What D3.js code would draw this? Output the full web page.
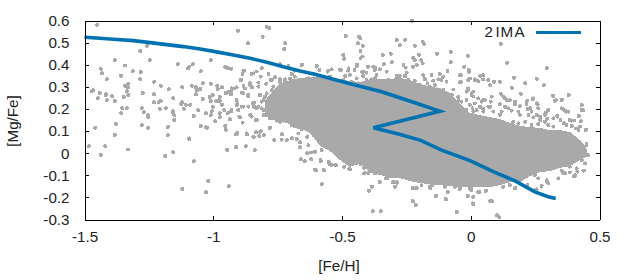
<!DOCTYPE html>
<html>
<head>
<meta charset="utf-8">
<script src="https://cdn.jsdelivr.net/npm/d3@7"></script>
<style>
  html, body { margin: 0; padding: 0; background: #fff; }
  svg { display: block; }
  text { font-family: "Liberation Sans", sans-serif; font-size: 15.2px; fill: #222; }
</style>
</head>
<body>
<svg width="630" height="280"></svg>
<script>
var xTicks = [-1.5, -1, -0.5, 0, 0.5];
var yTicks = [-0.3, -0.2, -0.1, 0, 0.1, 0.2, 0.3, 0.4, 0.5, 0.6];

// 2IMA model track
var modelFeH  = [-1.5, -1.44, -1.375, -1.31, -1.245, -1.181, -1.116, -1.051, -0.987, -0.922, -0.857, -0.792, -0.728, -0.663, -0.605, -0.476, -0.346, -0.217, -0.12, -0.378, -0.281, -0.197, -0.113, -0.003, 0.094, 0.172, 0.249, 0.301, 0.33];
var modelMgFe = [0.524, 0.52, 0.514, 0.509, 0.5, 0.491, 0.482, 0.471, 0.458, 0.444, 0.429, 0.411, 0.391, 0.372, 0.357, 0.316, 0.278, 0.228, 0.19, 0.115, 0.087, 0.059, 0.014, -0.034, -0.087, -0.125, -0.175, -0.197, -0.205];

// outline of the part of the cloud where the stars merge into solid grey
var cloudFeH = [-0.799, -0.78, -0.76, -0.741, -0.702, -0.663, -0.624, -0.585, -0.547, -0.508, -0.469, -0.43, -0.391, -0.352, -0.314, -0.275, -0.236, -0.197, -0.158, -0.119, -0.081, -0.042, -0.003, 0.036, 0.075, 0.114, 0.153, 0.192, 0.23, 0.269, 0.308, 0.347, 0.386, 0.425, 0.448, 0.456];
var cloudTop = [0.24, 0.263, 0.295, 0.313, 0.331, 0.34, 0.344, 0.344, 0.34, 0.335, 0.326, 0.322, 0.335, 0.335, 0.335, 0.34, 0.331, 0.313, 0.299, 0.295, 0.272, 0.227, 0.181, 0.172, 0.163, 0.154, 0.136, 0.123, 0.118, 0.114, 0.104, 0.104, 0.095, 0.059, 0.028, -0.009];
var cloudBottom = [0.172, 0.159, 0.15, 0.145, 0.132, 0.114, 0.091, 0.032, 0.01, -0.031, -0.063, -0.045, -0.086, -0.099, -0.113, -0.113, -0.126, -0.135, -0.14, -0.144, -0.149, -0.153, -0.153, -0.153, -0.153, -0.144, -0.131, -0.131, -0.104, -0.086, -0.081, -0.067, -0.058, -0.031, -0.018, -0.018];

// single stars [Fe/H, Mg/Fe]
var starsMetalPoor = [
  [-1.382,0.421],[-1.343,0.396],[-1.246,0.421],[-1.284,0.462],[-1.436,0.381],[-1.432,0.362],[-1.358,0.35],[-1.312,0.371],[-1.281,0.367],[-1.413,0.335],[-1.284,0.335],[-1.137,0.403],[-1.098,0.385],[-1.093,0.391],[-1.079,0.403],[-1.048,0.371],[-1.009,0.421],[-0.954,0.39],[-0.943,0.385],[-0.931,0.381],
  [-1.23,0.322],[-1.343,0.304],[-1.331,0.313],[-1.331,0.299],[-1.203,0.304],[-1.172,0.29],[-1.121,0.299],[-1.083,0.304],[-1.067,0.299],[-1.063,0.285],[-1.051,0.29],[-1.04,0.317],[-1.009,0.313],[-0.985,0.304],[-0.982,0.29],[-0.966,0.299],[-1.471,0.281],[-1.467,0.285],[-1.44,0.272],[-1.417,0.267],[-1.417,0.263],[-1.393,0.258],[-1.448,0.249],[-1.413,0.24],[-1.382,0.236],[-1.347,0.254],[-1.335,0.281],[-1.331,0.263],[-1.273,0.272],[-1.23,0.267],[-1.23,0.231],[-1.211,0.231],[-1.203,0.236],[-1.156,0.249],[-1.125,0.222],[-1.121,0.231],[-1.067,0.267],[-1.04,0.245],[-1.013,0.254],[-1.001,0.263],[-1.009,0.236],[-0.989,0.236],[-0.974,0.254],[-0.974,0.236],[-0.966,0.218],[-0.951,0.272],[-0.943,0.276],[-0.931,0.281],[-0.931,0.267],
  [-1.354,0.204],[-1.335,0.204],[-1.358,0.181],[-1.277,0.204],[-1.269,0.186],[-1.253,0.172],[-1.253,0.163],[-1.207,0.2],[-1.184,0.204],[-1.156,0.19],[-1.156,0.181],[-1.152,0.172],[-1.152,0.15],[-1.106,0.218],[-1.09,0.218],[-1.114,0.2],[-1.059,0.195],[-1.075,0.168],[-1.028,0.181],[-1.009,0.172],[-1.005,0.19],[-1.001,0.209],[-0.974,0.181],[-0.974,0.163],[-0.993,0.145],[-0.958,0.195],[-0.943,0.181],[-0.931,0.19],[-0.935,0.154],[-1.378,0.132],[-1.459,0.114],[-1.382,0.082],[-1.277,0.127],[-1.253,0.114],[-1.176,0.118],[-1.176,0.082],[-1.094,0.064],[-1.048,0.123],[-1.024,0.114],[-0.954,0.123],[-0.951,0.105],[-1.483,0.032],[-1.42,0.032],[-1.331,0.017],[-0.947,0.017],
  [-1.451,0.58],[-1.257,0.485],[-1.174,0.12],[-1.028,0.117],[-1.094,0.067],[-1.436,-0.008],[-1.187,-0.013],[-1.156,0.005],[-1.075,-0.036],[-0.946,0.014],[-0.911,0.028],[-0.873,0.032],[-0.838,0.014],[-1.121,-0.162],[-1.02,-0.126],[-1.028,-0.176],[-0.939,-0.149]
];
var starsUpper = [
  [-0.904,0.553],[-0.792,0.571],[-0.782,0.566],[-0.865,0.498],[-0.808,0.526],[-0.721,0.498],[-0.725,0.471],[-0.741,0.403],[-0.655,0.399],[-0.88,0.372],[-0.886,0.358],[-0.844,0.361],[-0.831,0.369],[-0.811,0.385],[-0.785,0.358],[-0.76,0.343],[-0.777,0.331],[-0.893,0.331],[-0.928,0.293],[-0.909,0.298],[-0.948,0.271],[-0.877,0.293],[-0.857,0.308],[-0.848,0.298],[-0.883,0.271],[-0.864,0.256],[-0.825,0.301],[-0.818,0.263],[-0.909,0.24],[-0.906,0.222],[-0.889,0.21],[-0.864,0.21],[-0.847,0.225],[-0.831,0.203],[-0.896,0.161],[-0.857,0.173],[-0.834,0.15],[-0.912,0.085],[-0.87,0.09],[-0.844,0.075],[-0.818,0.097],
  [-0.495,0.444],[-0.657,0.399],[-0.598,0.394],[-0.588,0.376],[-0.553,0.373],[-0.504,0.376],[-0.475,0.384],[-0.443,0.399],[-0.488,0.349],[-0.469,0.353],[-0.708,0.394],[-0.695,0.358],[-0.683,0.373],[-0.812,0.384],[-0.883,0.373],[-0.851,0.358],[-0.786,0.358],[-0.816,0.346],[-0.89,0.331],[-0.825,0.319],[-0.773,0.331],[-0.795,0.313],[-0.857,0.316],[-0.883,0.304],[-0.851,0.298],[-0.916,0.293],[-0.929,0.278],[-0.89,0.273],[-0.864,0.263],[-0.819,0.263],[-0.909,0.218],[-0.883,0.21],[-0.842,0.228],[-0.842,0.21],[-0.825,0.21],[-0.929,0.195],[-0.903,0.195],[-0.812,0.233],[-0.799,0.255],[-0.773,0.285],[-0.741,0.323],[-0.721,0.334],[-0.851,0.165],[-0.831,0.15],[-0.899,0.165],[-0.886,0.138],[-0.78,0.116],[-0.78,0.157],[-0.754,0.147],[-0.728,0.147],[-0.708,0.142],[-0.683,0.127],[-0.67,0.116],[-0.805,0.195],[-0.805,0.172],
  [-0.228,0.599],[-0.485,0.53],[-0.434,0.526],[-0.429,0.52],[-0.438,0.497],[-0.419,0.485],[-0.428,0.462],[-0.42,0.437],[-0.428,0.429],[-0.496,0.444],[-0.492,0.426],[-0.441,0.399],[-0.287,0.512],[-0.255,0.512],[-0.275,0.489],[-0.217,0.485],[-0.186,0.503],[-0.182,0.494],[-0.341,0.444],[-0.31,0.449],[-0.337,0.403],[-0.306,0.412],[-0.224,0.431],[-0.217,0.421],[-0.201,0.444],[-0.193,0.421],[-0.187,0.406],[-0.209,0.399],[-0.224,0.391],[-0.261,0.399],[-0.253,0.387],[-0.131,0.449],[-0.077,0.458],[-0.077,0.412],[-0.011,0.44],[-0.026,0.39],[-0.007,0.376],[0.117,0.494],[0.141,0.408],[0.296,0.385],
  [0.168,0.34],[0.211,0.317],[0.257,0.336],[0.284,0.308],[0.16,0.295],[0.195,0.268],[-0.038,0.322],[-0.039,0.354],[-0.01,0.331],[0.016,0.331],[0.036,0.349],[0.029,0.326],[0.068,0.331],[0.075,0.308],[0.09,0.323],[0.113,0.323],[-0.12,0.358],[-0.09,0.372],[-0.152,0.354],[-0.178,0.336],[-0.217,0.326],[-0.255,0.349],[-0.288,0.349],[-0.327,0.369],[-0.372,0.388],[-0.398,0.391],[-0.417,0.369],[-0.452,0.376],[-0.476,0.373],[-0.508,0.379],[-0.54,0.379],[-0.556,0.369],[-0.599,0.391],[-0.372,0.339],[-0.294,0.331],[-0.113,0.331],[-0.139,0.308],[-0.178,0.298],[-0.107,0.286],[-0.074,0.263],[-0.048,0.24],[-0.01,0.286],[0.003,0.263],[0.042,0.233],[0.081,0.256],[0.126,0.256],[0.139,0.24],[0.172,0.233],[0.217,0.233],[0.243,0.248],[0.23,0.203],[0.256,0.225],[0.321,0.259],[0.33,0.24],[0.355,0.243],[0.359,0.198],[0.372,0.188],[0.431,0.218],[0.431,0.195],[0.418,0.168],[0.446,0.105],[0.392,0.147],[0.337,0.165],[0.301,0.195],[0.288,0.173],[0.269,0.15],[0.224,0.173],[0.185,0.188],[0.146,0.203],[0.113,0.173],[0.068,0.21],[0.029,0.165],[-0.016,0.195],[-0.061,0.225],[-0.055,0.173],[0.418,0.105],[0.372,0.127],[0.301,0.127],[0.236,0.127],[0.185,0.135],[0.133,0.135],[0.068,0.15]
];
var starsLower = [
  [-0.78,0.113],[-0.907,0.091],[-0.869,0.086],[-0.834,0.095],[-0.815,0.1],[-0.842,0.073],[-0.822,0.077],[-0.803,0.082],[-0.912,0.027],[-0.838,0.014],[-0.763,0.059],[-0.733,0.086],[-0.734,0.061],[-0.714,0.059],[-0.694,0.068],[-0.675,0.064],[-0.663,0.05],[-0.663,0.027],[-0.683,0.122],[-0.67,0.089],[-0.644,0.119],[-0.635,0.074],[-0.631,0.036],[-0.635,0],[-0.62,0.003],[-0.605,0.006],[-0.659,-0.027],[-0.644,-0.036],[-0.62,-0.027],[-0.582,-0.036],[-0.601,-0.077],[-0.57,-0.077],[-0.578,-0.14],[-0.551,-0.04],[-0.539,-0.054],[-0.523,-0.054],[-0.492,-0.062],[-0.472,-0.072],[-0.579,0.014],[-0.611,0.082],[-0.624,0.104],[-0.605,-0.076],
  [-0.395,-0.17],[-0.384,-0.152],[-0.353,-0.131],[-0.329,-0.113],[-0.302,-0.131],[-0.287,-0.131],[-0.294,-0.153],[-0.224,-0.217],[-0.213,-0.235],[-0.38,-0.262],[-0.349,-0.262],[-0.054,-0.266],[0.009,-0.23],[0.075,-0.217],[0.084,-0.217],[0.102,-0.28],[0.11,-0.289],[-0.135,-0.194],[-0.096,-0.208],[-0.011,-0.194],[0.009,-0.198],[-0.224,-0.158],[-0.209,-0.158],[-0.158,-0.158],[-0.089,-0.176],[-0.042,-0.162],[-0.003,-0.162],[0.032,-0.176],[0.059,-0.172],[-0.243,-0.114],[-0.398,-0.091],[-0.469,-0.073],[-0.547,-0.049],[-0.527,-0.054],[-0.583,-0.031],[-0.57,-0.076],[-0.411,-0.091],[-0.372,-0.091],[-0.307,-0.091],[0.172,-0.159],[0.249,-0.167],[0.275,-0.152],[0.295,-0.129],[0.34,-0.114],[0.359,-0.091],[0.405,-0.099],[0.437,-0.079],[0.444,-0.009],[0.457,-0.009],[0.45,0.037]
];

// stars along the rough edge of the solid part
var fringeTop = [
  [-0.741,0.334],[-0.721,0.323],[-0.702,0.338],[-0.683,0.346],[-0.657,0.331],[-0.631,0.338],[-0.611,0.338],[-0.592,0.349],[-0.566,0.338],[-0.547,0.346],[-0.521,0.328],[-0.495,0.331],[-0.462,0.323],[-0.437,0.316],[-0.443,0.338],[-0.767,0.301],[-0.754,0.278],[-0.793,0.27],[-0.78,0.248],[-0.805,0.24],[-0.786,0.218],[-0.812,0.203],[-0.793,0.172],[-0.767,0.157],[-0.741,0.142],[-0.695,0.127],[-0.676,0.132],[-0.657,0.107],
  [-0.444,0.394],[-0.401,0.391],[-0.379,0.391],[-0.372,0.376],[-0.353,0.379],[-0.422,0.368],[-0.405,0.364],[-0.327,0.368],[-0.366,0.353],[-0.418,0.349],[-0.249,0.364],[-0.256,0.349],[-0.288,0.346],[-0.275,0.349],[-0.152,0.353],[-0.12,0.358],[-0.107,0.346],[-0.09,0.373],[-0.042,0.353],[-0.007,0.368],[-0.003,0.338],[0.016,0.334],[0.048,0.353],[0.048,0.334],[-0.185,0.353],[-0.178,0.334],[-0.217,0.328],[-0.243,0.331],[-0.321,0.331],[-0.295,0.323],[-0.34,0.323],[-0.385,0.334],[-0.405,0.331],[-0.146,0.328],[-0.126,0.334],[-0.094,0.323],[-0.198,0.308],[-0.168,0.316],[-0.159,0.301],[-0.068,0.288],[-0.042,0.32],[-0.01,0.293],[0.01,0.278],[-0.016,0.278],[-0.049,0.255],[-0.081,0.263],[-0.133,0.288],[-0.113,0.278],[-0.139,0.263],[-0.172,0.278],[-0.204,0.293],[-0.223,0.285],[0.029,0.248],[0.048,0.24],[-0.068,0.24],[-0.036,0.233],[-0.003,0.218],[0.01,0.187],[0.048,0.202],[-0.049,0.202],[-0.075,0.217],[-0.016,0.24],
  [0.003,0.271],[0.01,0.256],[0.029,0.248],[0.016,0.225],[0.036,0.21],[0.055,0.24],[0.081,0.256],[0.077,0.233],[0.075,0.21],[0.007,0.203],[0.023,0.195],[0.117,0.268],[0.133,0.248],[0.152,0.24],[0.113,0.222],[0.133,0.21],[0.172,0.222],[0.191,0.213],[0.159,0.192],[0.12,0.188],[0.088,0.188],[0.049,0.188],[0.191,0.173],[0.22,0.237],[0.217,0.222],[0.24,0.245],[0.22,0.2],[0.26,0.222],[0.262,0.203],[0.236,0.188],[0.256,0.173],[0.269,0.165],[0.292,0.182],[0.297,0.155],[0.243,0.162],[0.211,0.142],[0.165,0.142],[0.262,0.132],[0.318,0.26],[0.327,0.237],[0.353,0.24],[0.381,0.263],[0.353,0.203],[0.366,0.192],[0.379,0.188],[0.432,0.218],[0.436,0.195],[0.42,0.168],[0.336,0.168],[0.321,0.158],[0.349,0.15],[0.385,0.15],[0.401,0.147],[0.428,0.145],[0.362,0.135],[0.392,0.123],[0.409,0.112],[0.448,0.105],[0.424,0.12],[0.321,0.12],[0.288,0.142]
];
var fringeBottom = [
  [-0.444,-0.046],[-0.427,-0.051],[-0.414,-0.092],[-0.415,-0.066],[-0.396,-0.087],[-0.385,-0.072],[-0.37,-0.092],[-0.383,-0.152],[-0.396,-0.17],[-0.353,-0.129],[-0.346,-0.084],[-0.324,-0.114],[-0.308,-0.102],[-0.301,-0.129],[-0.287,-0.134],[-0.295,-0.152],[-0.275,-0.099],[-0.249,-0.114],[-0.226,-0.157],[-0.209,-0.157],[-0.191,-0.145],[-0.159,-0.152],[-0.15,-0.145],[-0.1,-0.152],[-0.09,-0.175],[-0.062,-0.152],[-0.042,-0.16],[0.003,-0.167],[0.032,-0.175],[-0.135,-0.193],[-0.098,-0.208],[-0.012,-0.193],[0.01,-0.197],[-0.226,-0.217],[-0.214,-0.232],[0.007,-0.229],
  [0.003,-0.159],[0.01,-0.197],[0.029,-0.175],[0.059,-0.17],[0.007,-0.227],[0.077,-0.215],[0.126,-0.152],[0.152,-0.144],[0.174,-0.156],[0.22,-0.144],[0.256,-0.164],[0.275,-0.147],[0.295,-0.122],[0.301,-0.137],[0.262,-0.114],[0.249,-0.099],[0.34,-0.114],[0.353,-0.079],[0.385,-0.087],[0.401,-0.104],[0.414,-0.084],[0.44,-0.079],[0.411,-0.069],[0.385,-0.061],[0.444,-0.046],[0.457,-0.009],[0.45,0.041],[0.431,-0.031],[0.366,-0.091]
];

function main() {
    var svg = d3.select("svg");

    var x = d3.scaleLinear().domain([-1.5, 0.5]).range([84.5, 599.5]);
    var y = d3.scaleLinear().domain([-0.3, 0.6]).range([219.5, 20.5]);

    // solid part of the cloud
    svg.append("path")
        .datum(cloudFeH)
        .attr("fill", "#a9a9a9")
        .attr("shape-rendering", "crispEdges")
        .attr("d", d3.area()
            .x(function(d) { return x(d); })
            .y0(function(d, i) { return y(cloudBottom[i]); })
            .y1(function(d, i) { return y(cloudTop[i]); }));

    // single stars
    svg.append("g").selectAll("circle")
        .data(starsMetalPoor.concat(starsUpper, starsLower, fringeTop, fringeBottom))
        .enter().append("circle")
        .attr("cx", function(d) { return x(d[0]); })
        .attr("cy", function(d) { return y(d[1]); })
        .attr("r", 2)
        .attr("shape-rendering", "crispEdges")
        .attr("fill", "#a9a9a9");

    // model track
    svg.append("path")
        .datum(modelFeH)
        .attr("fill", "none")
        .attr("stroke", "#0072b2")
        .attr("stroke-width", 3.6)
        .attr("d", d3.line()
            .x(function(d) { return x(d); })
            .y(function(d, i) { return y(modelMgFe[i]); }));

    // axes, gnuplot style: ticks point inward, mirrored on top and right
    function tidy(g) {
        g.attr("shape-rendering", "crispEdges");
        g.selectAll("path").attr("stroke", "#000");
        g.selectAll("line").attr("stroke", "#000");
    }
    svg.append("g")
        .attr("transform", "translate(0,219.5)")
        .call(d3.axisBottom(x).tickValues(xTicks).tickSizeInner(-4).tickSizeOuter(0).tickPadding(12).tickFormat(String))
        .call(tidy);
    svg.append("g")
        .attr("transform", "translate(84.5,0)")
        .call(d3.axisLeft(y).tickValues(yTicks).tickSizeInner(-4).tickSizeOuter(0).tickPadding(15).tickFormat(String))
        .call(tidy);
    svg.append("g")
        .attr("transform", "translate(0,20.5)")
        .call(d3.axisTop(x).tickValues(xTicks).tickSizeInner(-4).tickSizeOuter(0).tickFormat(""))
        .call(tidy);
    svg.append("g")
        .attr("transform", "translate(599.5,0)")
        .call(d3.axisRight(y).tickValues(yTicks).tickSizeInner(-4).tickSizeOuter(0).tickFormat(""))
        .call(tidy);

    // axis titles
    svg.append("text")
        .attr("x", 339)
        .attr("y", 271)
        .attr("text-anchor", "middle")
        .text("[Fe/H]");
    svg.append("text")
        .attr("transform", "translate(18,121) rotate(-90)")
        .attr("text-anchor", "middle")
        .text("[Mg/Fe]");

    // legend
    svg.append("text")
        .attr("x", "484.5 495.5 500.5 514.5")
        .attr("y", 37)
        .text("2IMA");
    svg.append("line")
        .attr("x1", 536).attr("x2", 581)
        .attr("y1", 32.5).attr("y2", 32.5)
        .attr("stroke", "#0072b2")
        .attr("stroke-width", 3)
        .attr("shape-rendering", "crispEdges");
}
main();
</script>
</body>
</html>
